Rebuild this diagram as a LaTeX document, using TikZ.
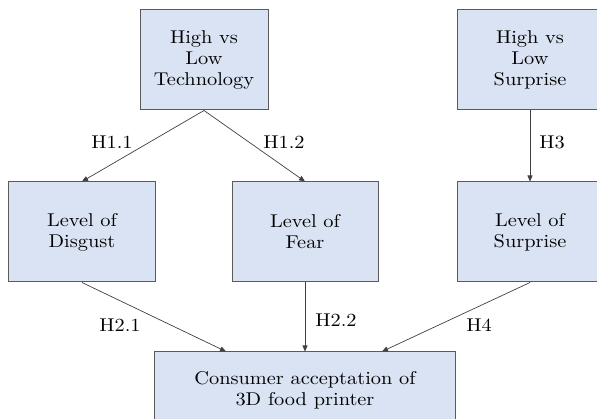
\documentclass[tikz,border=0pt]{standalone}
\usepackage{fontspec}
\setmainfont{lmroman10-regular.otf}[FakeStretch=1.1]
\usetikzlibrary{arrows.meta}
\definecolor{boxblue}{HTML}{DAE3F3}
\definecolor{boxline}{HTML}{5A5A5A}
\definecolor{linkline}{HTML}{404040}
\tikzset{
  varbox/.style={draw=boxline,fill=boxblue,line width=1pt,minimum height=100pt,inner sep=0pt,align=center,font=\fontsize{18.5}{21}\selectfont},
  hyp/.style={font=\fontsize{18.5}{21}\selectfont},
  link/.style={draw=linkline,-{Triangle[length=6pt,width=5pt]},line width=0.7pt}
}

\begin{document}
\begin{tikzpicture}[x=1pt,y=-1pt]
\useasboundingbox (0,0) rectangle (597,419);
\node[varbox,minimum width=128pt] (tech) at (204,60) {High vs\\Low\\Technology};
\node[varbox,minimum width=146pt] (surpman) at (530,60) {High vs\\Low\\Surprise};
\node[varbox,minimum width=147pt] (disgust) at (82,232) {Level of\\Disgust};
\node[varbox,minimum width=146pt] (fear) at (305,232) {Level of\\Fear};
\node[varbox,minimum width=146pt] (surprise) at (530,232) {Level of\\Surprise};
\node[varbox,minimum width=301pt,minimum height=76pt] (accept) at (305,390) {Consumer acceptation of\\3D food printer};
\draw[link] (tech.south) -- (disgust.north);
\draw[link] (tech.south) -- (fear.north);
\draw[link] (surpman.south) -- (surprise.north);
\draw[link] (disgust.south) -- ([xshift=-79pt]accept.north);
\draw[link] (fear.south) -- (accept.north);
\draw[link] (surprise.south) -- ([xshift=77pt]accept.north);
\node[hyp] (h11) at (112,142) {H1.1};
\node[hyp] (h12) at (284,142) {H1.2};
\node[hyp] (h3) at (552,142) {H3};
\node[hyp] (h21) at (120,325) {H2.1};
\node[hyp] (h22) at (336,320) {H2.2};
\node[hyp] (h4) at (479,325) {H4};
\end{tikzpicture}
\end{document}
